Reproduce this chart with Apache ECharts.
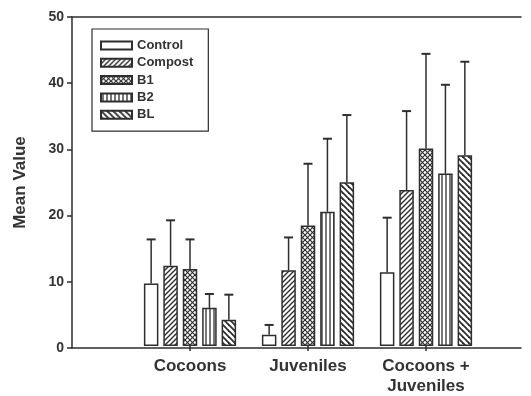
<!DOCTYPE html>
<html>
<head>
<meta charset="utf-8">
<script src="https://cdn.jsdelivr.net/npm/echarts@6/dist/echarts.min.js"></script>
<style>
  html, body { margin: 0; padding: 0; background: #fff; }
  #chart { width: 531px; height: 396px; }
</style>
</head>
<body>
<div id="chart"></div>
<script>
// Group labels on the x axis
const categories = ['Cocoons', 'Juveniles', 'Cocoons +\nJuveniles'];
// Treatments
const treatments = ['Control', 'Compost', 'B1', 'B2', 'BL'];

// Mean values per group (Cocoons, Juveniles, Cocoons + Juveniles)
const controlMean = [9.5, 1.7, 11.2];
const compostMean = [12.2, 11.5, 23.7];
const b1Mean      = [11.7, 18.3, 30.0];
const b2Mean      = [5.8, 20.4, 26.2];
const blMean      = [4.0, 24.9, 29.0];

// Error (upper whisker length) per group
const controlErr = [6.7, 1.5, 8.3];
const compostErr = [6.9, 5.0, 12.0];
const b1Err      = [4.5, 9.4, 14.4];
const b2Err      = [2.1, 11.1, 13.5];
const blErr      = [3.8, 10.2, 14.2];

const yMin = 0, yMax = 50, yStep = 10;

const means = [controlMean, compostMean, b1Mean, b2Mean, blMean];
const errs = [controlErr, compostErr, b1Err, b2Err, blErr];

const INK = '#2e2e2e';
const TEXT = '#333';
const FONT = '"Liberation Sans", Arial, sans-serif';
const BAR_W = 14.5;
const BAR_GAP = 0.34;           // fraction of bar width
const CAP = 4.5;                // half width of the whisker cap

// Fill patterns built on small tiles
function tile(w, h, draw) {
  const c = document.createElement('canvas');
  c.width = w; c.height = h;
  const g = c.getContext('2d');
  g.fillStyle = '#fff';
  g.fillRect(0, 0, w, h);
  g.strokeStyle = INK;
  g.lineCap = 'square';
  draw(g, w, h);
  return { image: c, repeat: 'repeat' };
}
function seg(g, x1, y1, x2, y2) {
  g.beginPath(); g.moveTo(x1, y1); g.lineTo(x2, y2); g.stroke();
}
const fills = [
  '#ffffff',
  // forward diagonals
  tile(5, 5, (g, s) => {
    g.lineWidth = 1.4;
    seg(g, 0, s, s, 0); seg(g, -1, 1, 1, -1); seg(g, s - 1, s + 1, s + 1, s - 1);
  }),
  // cross hatch
  tile(5, 5, (g, s) => {
    g.lineWidth = 1.2;
    seg(g, 0, s, s, 0); seg(g, -1, 1, 1, -1); seg(g, s - 1, s + 1, s + 1, s - 1);
    seg(g, 0, 0, s, s); seg(g, s - 1, -1, s + 1, 1); seg(g, -1, s - 1, 1, s + 1);
  }),
  // vertical lines
  tile(4, 4, (g, s) => {
    g.lineWidth = 1.3;
    g.lineCap = 'butt';
    seg(g, 2, 0, 2, s);
  }),
  // back diagonals
  tile(6, 6, (g, s) => {
    g.lineWidth = 1.8;
    seg(g, 0, 0, s, s); seg(g, s - 1, -1, s + 1, 1); seg(g, -1, s - 1, 1, s + 1);
  })
];

const barSeries = treatments.map((name, i) => ({
  name: name,
  type: 'bar',
  xAxisIndex: 0,
  yAxisIndex: 0,
  barWidth: BAR_W,
  barGap: Math.round(BAR_GAP * 100) + '%',
  data: means[i],
  itemStyle: { color: fills[i], borderColor: INK, borderWidth: 1.5 },
  emphasis: { disabled: true },
  z: 2
}));

// One row per whisker: [group, treatment, mean, mean + err]
const whiskers = [];
means.forEach((m, s) => m.forEach((v, c) => whiskers.push([c, s, v, v + errs[s][c]])));

const errorSeries = {
  type: 'custom',
  xAxisIndex: 0,
  yAxisIndex: 0,
  data: whiskers,
  z: 3,
  silent: true,
  renderItem: function (params, api) {
    const c = api.value(0), s = api.value(1);
    const base = api.coord([c, api.value(2)]);
    const top = api.coord([c, api.value(3)]);
    const step = BAR_W * (1 + BAR_GAP);
    const x = top[0] + (s - (treatments.length - 1) / 2) * step;
    const st = { stroke: INK, lineWidth: 1.5 };
    return {
      type: 'group',
      children: [
        { type: 'line', shape: { x1: x, y1: base[1], x2: x, y2: top[1] }, style: st },
        { type: 'line', shape: { x1: x - CAP, y1: top[1], x2: x + CAP, y2: top[1] }, style: { stroke: INK, lineWidth: 2 } }
      ]
    };
  }
};

const chart = echarts.init(document.getElementById('chart'), null, { renderer: 'canvas' });
chart.setOption({
  animation: false,
  backgroundColor: '#fff',
  textStyle: { fontFamily: FONT },
  grid: [
    // bar area
    { left: 131, right: 46, top: 17, bottom: 48 },
    // full frame carrying the axis lines and the value scale
    { left: 72, right: 10, top: 17, bottom: 48 }
  ],
  legend: {
    orient: 'vertical',
    left: 92,
    top: 29,
    data: treatments,
    icon: 'rect',
    itemWidth: 31,
    itemHeight: 8,
    itemGap: 4.3,
    padding: [10, 15, 10, 8],
    borderColor: INK,
    borderWidth: 1.2,
    selectedMode: false,
    textStyle: { fontFamily: FONT, fontSize: 13, fontWeight: 'bold', color: TEXT, lineHeight: 13 }
  },
  xAxis: [
    {
      type: 'category',
      gridIndex: 0,
      data: categories,
      boundaryGap: true,
      axisLine: { show: false },
      axisTick: { show: true, alignWithLabel: true, length: 5, lineStyle: { color: INK, width: 1.5 } },
      axisLabel: { margin: 10, fontFamily: FONT, fontSize: 17, fontWeight: 'bold', color: TEXT, lineHeight: 20, interval: 0 },
      splitLine: { show: false }
    },
    {
      type: 'value',
      gridIndex: 1,
      min: 0, max: 1,
      axisLine: { show: true, onZero: false, lineStyle: { color: INK, width: 1.5 } },
      axisTick: { show: false },
      axisLabel: { show: false },
      splitLine: { show: false }
    },
    {
      type: 'value',
      gridIndex: 1,
      position: 'top',
      min: 0, max: 1,
      axisLine: { show: true, onZero: false, lineStyle: { color: INK, width: 1.5 } },
      axisTick: { show: false },
      axisLabel: { show: false },
      splitLine: { show: false }
    }
  ],
  yAxis: [
    {
      type: 'value',
      gridIndex: 0,
      min: yMin, max: yMax, interval: yStep,
      show: false
    },
    {
      type: 'value',
      gridIndex: 1,
      min: yMin, max: yMax, interval: yStep,
      name: 'Mean Value',
      nameLocation: 'middle',
      nameGap: 43,
      nameTextStyle: { fontFamily: FONT, fontSize: 17, fontWeight: 'bold', color: TEXT },
      axisLine: { show: true, lineStyle: { color: INK, width: 1.5 } },
      axisTick: { show: true, length: 5, lineStyle: { color: INK, width: 1.5 } },
      axisLabel: { margin: 8, fontFamily: FONT, fontSize: 14, fontWeight: 'bold', color: TEXT },
      splitLine: { show: false }
    }
  ],
  series: barSeries.concat([errorSeries])
});
</script>
</body>
</html>
